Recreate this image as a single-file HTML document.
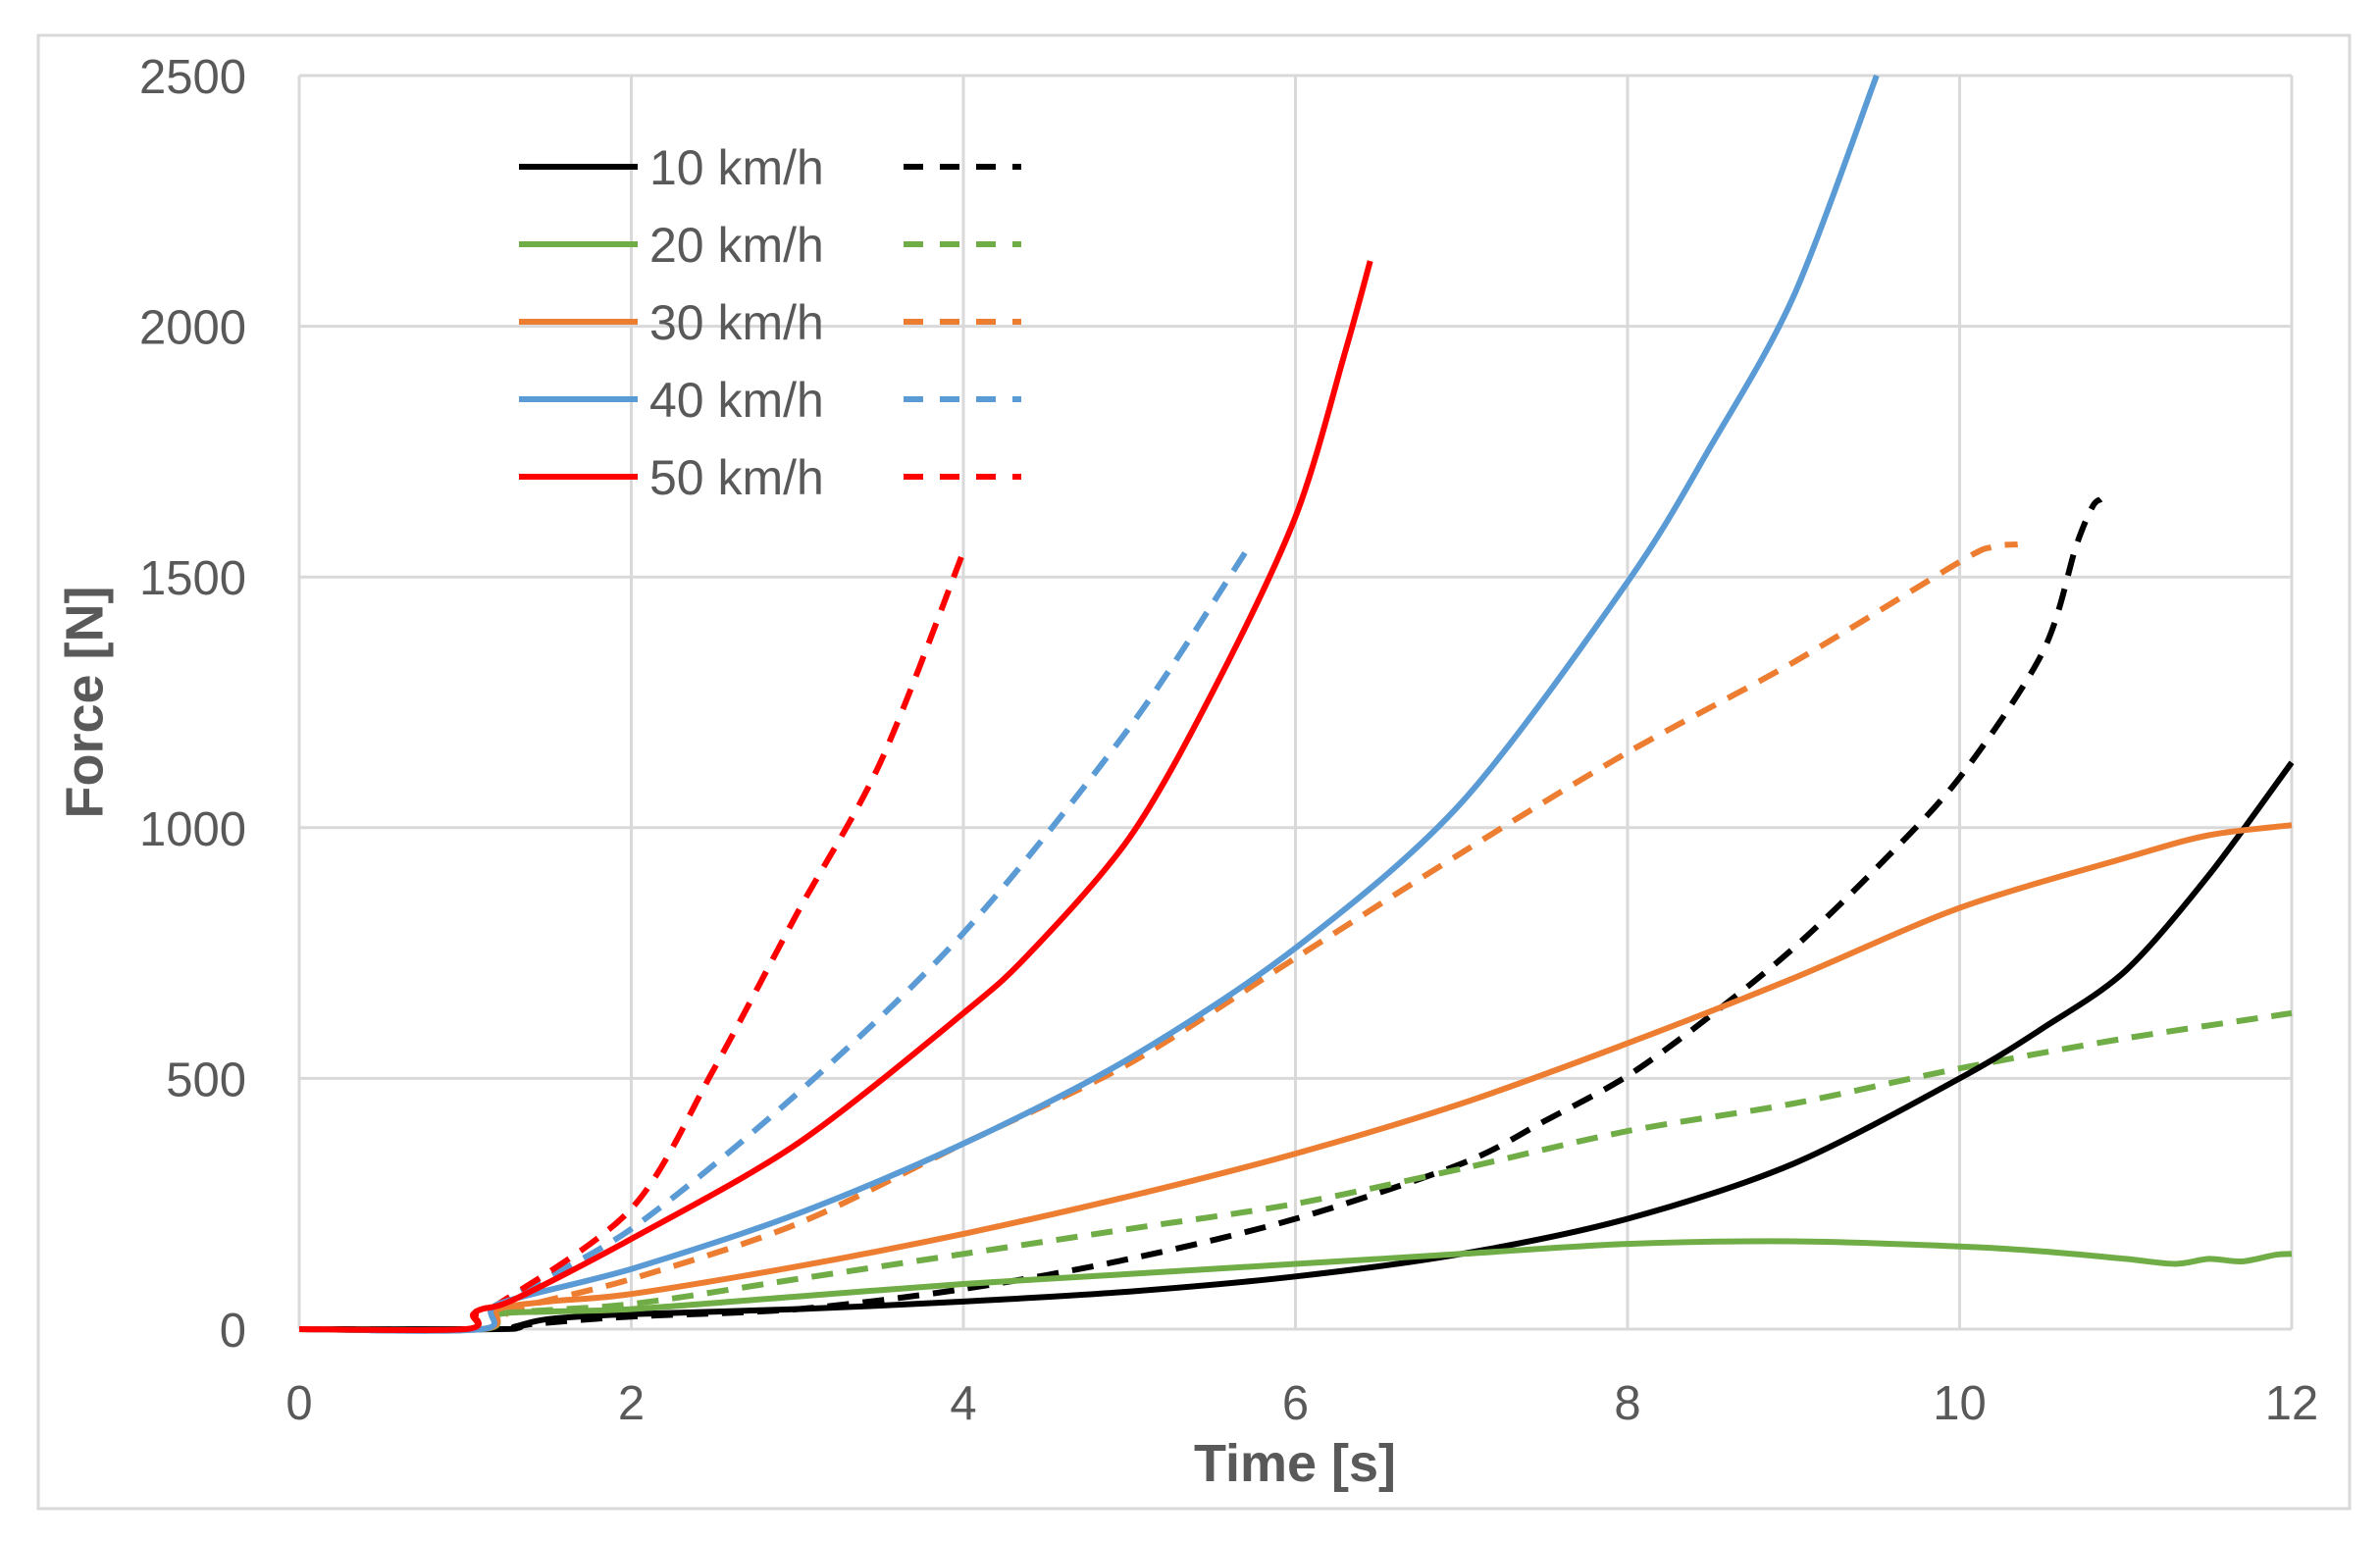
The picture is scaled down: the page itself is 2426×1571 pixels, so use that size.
<!DOCTYPE html>
<html><head><meta charset="utf-8"><style>
html,body{margin:0;padding:0;background:#fff;}
svg{display:block;font-family:"Liberation Sans",sans-serif;}
</style></head><body>
<svg id="chart" width="2426" height="1571" viewBox="0 0 2426 1571">
<rect x="39" y="36" width="2356" height="1502" fill="#fff" stroke="#d9d9d9" stroke-width="3"/>
<g id="grid"></g>
<g id="ticks"></g>
<defs><clipPath id="plotclip"><rect x="300" y="70" width="2045" height="1295"/></clipPath></defs>
<g id="series" clip-path="url(#plotclip)"></g>
<text x="90" y="716" transform="rotate(-90 90 716)" text-anchor="middle" dominant-baseline="middle" font-size="54" font-weight="bold" fill="#595959">Force [N]</text>
<text x="1320" y="1510" text-anchor="middle" font-size="54" font-weight="bold" fill="#595959">Time [s]</text>
<g id="legend"></g>
</svg>
<script>
const xTicks=[0,2,4,6,8,10,12];
const yTicks=[0,500,1000,1500,2000,2500];
const labels=["10 km/h","20 km/h","30 km/h","40 km/h","50 km/h"];
const colors=["#000000","#70AD47","#ED7D31","#5B9BD5","#FF0000"];
const t10s=[0,1.2,1.3,1.5,2,3,4,5,6,7,8,9,10,10.5,11,11.5,12];
const f10s=[0,0,5,20,30,40,55,75,105,150,220,330,500,600,715,905,1130];
const t10d=[0,1.2,1.4,2,3,4,5,6,7,7.5,8,8.5,9,9.5,10,10.5,10.7,10.8,10.85];
const f10d=[0,0,10,25,40,80,140,220,330,415,505,625,760,920,1100,1350,1560,1640,1655];
const t20s=[0,1.1,1.2,1.5,2,3,4,5,6,7,8,9,10,10.5,11,11.3,11.5,11.7,11.9,12];
const f20s=[0,0,30,35,40,65,90,110,130,150,170,175,165,155,140,130,140,135,148,150];
const t20d=[0,1.1,1.2,2,3,4,5,6,7,8,9,10,11,12];
const f20d=[0,0,30,50,100,150,200,250,320,395,450,520,580,630];
const t30s=[0,1.1,1.2,1.5,2,3,4,5,6,7,8,9,10,11,11.5,12];
const f30s=[0,0,40,55,70,125,190,265,350,450,570,700,840,940,985,1005];
const t30d=[0,1.1,1.3,2,3,4,5,6,7,8,9,10,10.2,10.35];
const f30d=[0,0,40,100,210,370,530,740,950,1150,1330,1530,1560,1565];
const t40s=[0,1.1,1.2,2,3,4,5,6,7,8,8.5,9,9.5];
const f40s=[0,0,50,120,230,370,540,760,1050,1490,1760,2060,2500];
const t40d=[0,1.1,1.2,2,3,4,5,5.7];
const f40d=[0,0,50,200,470,790,1200,1550];
const t50s=[0,1.0,1.05,1.1,1.3,2,3,4,4.4,5,5.5,6,6.3,6.45];
const f50s=[0,0,30,40,60,180,370,630,750,980,1270,1620,1950,2130];
const t50d=[0,1.0,1.05,1.2,2,2.5,3,3.5,4];
const f50d=[0,0,30,50,240,520,830,1130,1550];
const solidT=[t10s,t20s,t30s,t40s,t50s], solidF=[f10s,f20s,f30s,f40s,f50s];
const dashT=[t10d,t20d,t30d,t40d,t50d], dashF=[f10d,f20d,f30d,f40d,f50d];

const X0=305,X1=2336,Y0=1355,Y1=77;
const xs=t=>X0+(t-0)/12*(X1-X0);
const ys=f=>Y0-(f/2500)*(Y0-Y1);
const NS="http://www.w3.org/2000/svg";
function mk(tag,attrs,parent){const e=document.createElementNS(NS,tag);for(const k in attrs)e.setAttribute(k,attrs[k]);parent.appendChild(e);return e;}
const grid=document.getElementById('grid'),ticks=document.getElementById('ticks');
xTicks.forEach(v=>{
  const l=mk('line',{x1:xs(v),x2:xs(v),y1:Y1,y2:Y0,stroke:'#d9d9d9','stroke-width':3},grid);
  
  
  const t=mk('text',{x:xs(v),y:1447,'text-anchor':'middle','font-size':49,fill:'#595959'},ticks);
  t.textContent=v;
  
  
});
yTicks.forEach(v=>{
  const l=mk('line',{x1:X0,x2:X1,y1:ys(v),y2:ys(v),stroke:'#d9d9d9','stroke-width':3},grid);
  
  
  const t=mk('text',{x:251,y:ys(v)+18,'text-anchor':'end','font-size':49,fill:'#595959'},ticks);
  t.textContent=v;
  
  
});
const series=document.getElementById('series');
function pathD(T,F){
  const P=T.map((t,i)=>[xs(t),ys(F[i])]);
  let d='M'+P[0][0].toFixed(1)+','+P[0][1].toFixed(1);
  for(let i=0;i<P.length-1;i++){
    const p0=P[Math.max(0,i-1)],p1=P[i],p2=P[i+1],p3=P[Math.min(P.length-1,i+2)];
    const k=1/6*0.9;
    const c1=[p1[0]+(p2[0]-p0[0])*k,p1[1]+(p2[1]-p0[1])*k];
    const c2=[p2[0]-(p3[0]-p1[0])*k,p2[1]-(p3[1]-p1[1])*k];
    d+=' C'+c1[0].toFixed(1)+','+c1[1].toFixed(1)+' '+c2[0].toFixed(1)+','+c2[1].toFixed(1)+' '+p2[0].toFixed(1)+','+p2[1].toFixed(1);
  }
  return d;
}
for(let i=0;i<5;i++){
  const p=mk('path',{d:pathD(dashT[i],dashF[i]),fill:'none',stroke:colors[i],'stroke-width':6,'stroke-dasharray':'22 14','stroke-linejoin':'round'},series);
  
  
}
for(let i=0;i<5;i++){
  const p=mk('path',{d:pathD(solidT[i],solidF[i]),fill:'none',stroke:colors[i],'stroke-width':6,'stroke-linejoin':'round'},series);
  
  
}
const legend=document.getElementById('legend');
const rowsY=[170,249,328,407,486];
for(let i=0;i<5;i++){
  const g=mk('g',{},legend);
  
  
  mk('line',{x1:529,x2:650,y1:rowsY[i],y2:rowsY[i],stroke:colors[i],'stroke-width':6},g);
  const t=mk('text',{x:662,y:rowsY[i]+18,'font-size':50,fill:'#595959'},g);
  t.textContent=labels[i];
  mk('line',{x1:921,x2:1041,y1:rowsY[i],y2:rowsY[i],stroke:colors[i],'stroke-width':6,'stroke-dasharray':'20 17'},g);
}
</script>
</body></html>
